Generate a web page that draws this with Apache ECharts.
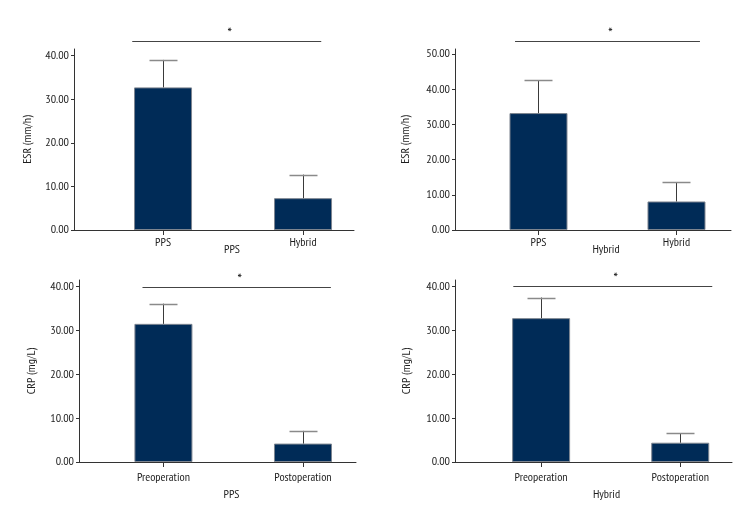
<!DOCTYPE html>
<html>
<head>
<meta charset="utf-8">
<script src="https://cdn.jsdelivr.net/npm/echarts@6/dist/echarts.min.js"></script>
<style>html,body{margin:0;padding:0;background:#fff}#c{width:756px;height:528px}</style>
</head>
<body>
<div id="c"></div>
<script>
// ---- data ----
var esrCategories = ['PPS', 'Hybrid'];
var crpCategories = ['Preoperation', 'Postoperation'];
var yTicks40 = [0, 10, 20, 30, 40];
var yTicks50 = [0, 10, 20, 30, 40, 50];

var esrPpsMean = [32.7, 7.3];
var esrPpsUpper = [39.0, 12.7];
var esrHybridMean = [33.2, 8.1];
var esrHybridUpper = [42.5, 13.5];
var crpPpsMean = [31.5, 4.2];
var crpPpsUpper = [36.1, 7.1];
var crpHybridMean = [32.8, 4.4];
var crpHybridUpper = [37.5, 6.6];

// significance bracket: [from position, to position, y value]
var sigEsrPps = [0.78, 2.13, 43.4];
var sigEsrHybrid = [0.83, 2.17, 53.8];
var sigCrpPps = [0.85, 2.20, 39.9];
var sigCrpHybrid = [0.80, 2.23, 40.2];

var FONT = "'PT Sans Narrow','Roboto Condensed','DejaVu Sans Condensed',sans-serif";
var FS = 12;
var TXT = '#1e1e1e';
var AX = '#333';

var panels = [
  {grid:{left:74, right:402, top:49, bottom:298}, xmin:0.364, xmax:2.364, ymax:41.5, ticks:yTicks40,
   cats:esrCategories, mean:esrPpsMean, upper:esrPpsUpper, sig:sigEsrPps,
   yName:'ESR (mm/h)', xName:'PPS', nameGap:14, namePad:36, labelMargin:7, yGap:40},
  {grid:{left:455, right:25, top:49, bottom:298}, xmin:0.395, xmax:2.395, ymax:51.4, ticks:yTicks50,
   cats:esrCategories, mean:esrHybridMean, upper:esrHybridUpper, sig:sigEsrHybrid,
   yName:'ESR (mm/h)', xName:'Hybrid', nameGap:14, namePad:26, labelMargin:7, yGap:43},
  {grid:{left:79, right:400, top:280, bottom:66}, xmin:0.395, xmax:2.38, ymax:41.5, ticks:yTicks40,
   cats:crpCategories, mean:crpPpsMean, upper:crpPpsUpper, sig:sigCrpPps,
   yName:'CRP (mg/L)', xName:'PPS', nameGap:27, namePad:28, labelMargin:10, yGap:41},
  {grid:{left:455, right:24, top:280, bottom:66}, xmin:0.381, xmax:2.372, ymax:41.5, ticks:yTicks40,
   cats:crpCategories, mean:crpHybridMean, upper:crpHybridUpper, sig:sigCrpHybrid,
   yName:'CRP (mg/L)', xName:'Hybrid', nameGap:27, namePad:26, labelMargin:10, yGap:42}
];

var option = {
  backgroundColor:'#fff',
  animation:false,
  textStyle:{fontFamily:FONT},
  grid:[], xAxis:[], yAxis:[], series:[]
};

panels.forEach(function(p, i){
  option.grid.push(Object.assign({containLabel:false}, p.grid));
  var positions = p.cats.map(function(c, k){ return k + 1; });
  option.xAxis.push({
    type:'value', gridIndex:i, min:p.xmin, max:p.xmax,
    splitLine:{show:false},
    axisLine:{show:true, onZero:false, lineStyle:{color:AX, width:1}},
    axisTick:{show:true, length:5, lineStyle:{color:AX}, customValues:positions},
    axisLabel:{show:true, color:TXT, fontSize:FS, fontFamily:FONT, margin:p.labelMargin,
      customValues:positions, hideOverlap:false,
      formatter:function(v){ var k = Math.round(v) - 1; return p.cats[k] || ''; }},
    name:p.xName, nameLocation:'middle', nameGap:p.nameGap, nameMoveOverlap:false,
    nameTextStyle:{color:TXT, fontSize:FS, fontFamily:FONT, padding:[0,0,0,p.namePad]}
  });
  option.yAxis.push({
    type:'value', gridIndex:i, min:0, max:p.ymax,
    splitLine:{show:false},
    axisLine:{show:true, lineStyle:{color:AX, width:1}},
    axisTick:{show:true, length:3, lineStyle:{color:AX}, customValues:p.ticks},
    axisLabel:{color:TXT, fontSize:FS, fontFamily:FONT, margin:5, customValues:p.ticks,
      formatter:function(v){ return v.toFixed(2); }},
    name:p.yName, nameLocation:'middle', nameGap:p.yGap, nameMoveOverlap:false,
    nameTextStyle:{color:TXT, fontSize:FS, fontFamily:FONT}
  });
  option.series.push({
    type:'bar', xAxisIndex:i, yAxisIndex:i, barWidth:58,
    data:p.mean.map(function(m, k){ return [positions[k], m]; }),
    itemStyle:{color:'#002b57', borderColor:'#7d8590', borderWidth:1}
  });
  option.series.push({
    type:'custom', xAxisIndex:i, yAxisIndex:i, clip:false, z:3,
    data:p.mean.map(function(m, k){ return [positions[k], m, p.upper[k]]; }),
    renderItem:function(params, api){
      var base = api.coord([api.value(0), api.value(1)]);
      var top = api.coord([api.value(0), api.value(2)]);
      var x = Math.round(base[0]) + 0.5;
      return {type:'group', children:[
        {type:'line', shape:{x1:x, y1:base[1], x2:x, y2:top[1]}, style:{stroke:'#3a3a3a', lineWidth:1}},
        {type:'line', shape:{x1:x-14, y1:Math.round(top[1])+0.5, x2:x+14, y2:Math.round(top[1])+0.5}, style:{stroke:'#8a8a8a', lineWidth:1.5}}
      ]};
    }
  });
  option.series.push({
    type:'custom', xAxisIndex:i, yAxisIndex:i, clip:false, z:3,
    data:[p.sig],
    renderItem:function(params, api){
      var a = api.coord([api.value(0), api.value(2)]);
      var b = api.coord([api.value(1), api.value(2)]);
      var y = Math.round(a[1]) + 0.5;
      return {type:'group', children:[
        {type:'line', shape:{x1:a[0], y1:y, x2:b[0], y2:y}, style:{stroke:'#444', lineWidth:1.2}},
        {type:'text', x:(a[0]+b[0])/2 + 3, y:y - 7, style:{text:'*', fill:TXT, font:'15px ' + FONT, align:'center', verticalAlign:'middle'}}
      ]};
    }
  });
});

var chart = echarts.init(document.getElementById('c'), null, {renderer:'canvas'});
chart.setOption(option);
</script>
</body>
</html>
